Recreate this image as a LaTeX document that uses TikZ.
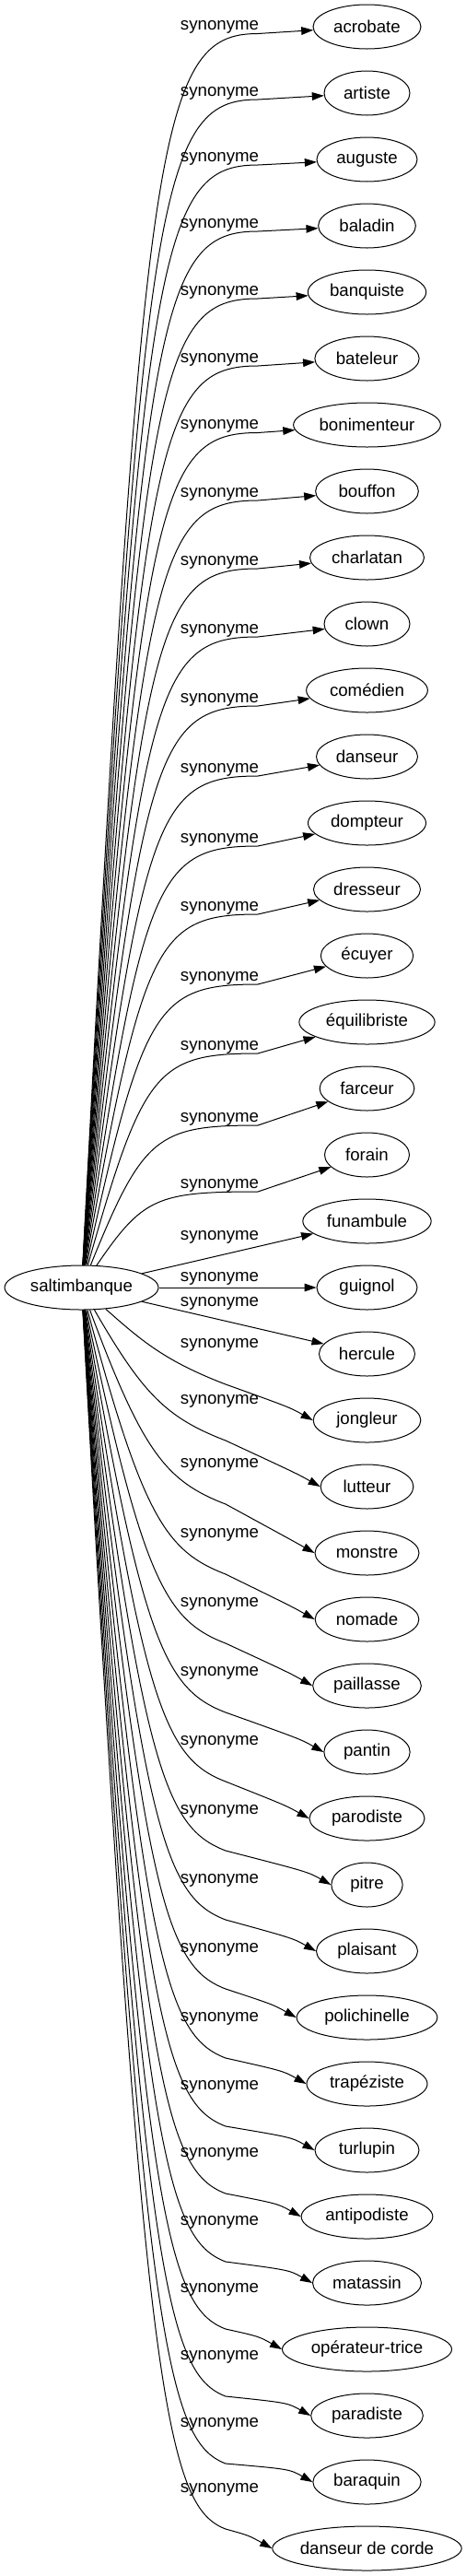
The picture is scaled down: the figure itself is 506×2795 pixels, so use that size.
\documentclass[tikz,border=0pt]{standalone}
\usepackage{fontspec}
\setmainfont{Liberation Sans}
\usetikzlibrary{arrows.meta,shapes.geometric,calc}
\begin{document}
\begin{tikzpicture}[x=0.75pt,y=-0.75pt,
  every node/.style={font=\fontsize{14}{16}\selectfont},
  term/.style={draw, ellipse, inner sep=0pt, minimum height=36pt, line width=0.75pt},
  lab/.style={inner sep=0pt},
  synarrow/.style={draw, line width=0.75pt, -{Triangle[length=9.75pt,width=6.5pt]}}]
\useasboundingbox[fill=white] (0,0) rectangle (506,2795);
\node[term, minimum width=125.25pt] (src) at (88.5,1397) {saltimbanque};
\foreach \i/\t/\w in {1/acrobate/117, 2/artiste/93, 3/auguste/109, 4/baladin/105.7,
  5/banquiste/128.3, 6/bateleur/113.3, 7/bonimenteur/159.7, 8/bouffon/111.7,
  9/charlatan/124, 10/clown/93, 11/comédien/131.7, 12/danseur/110, 13/dompteur/128,
  14/dresseur/116, 15/écuyer/100.3, 16/équilibriste/147.3, 17/farceur/102.7,
  18/forain/92, 19/funambule/139.3, 20/guignol/109, 21/hercule/104, 22/jongleur/116.7,
  23/lutteur/100.7, 24/monstre/113, 25/nomade/112.7, 26/paillasse/117.7, 27/pantin/93.3,
  28/parodiste/125, 29/pitre/77.3, 30/plaisant/110, 31/polichinelle/152.7,
  32/trapéziste/131, 33/turlupin/113, 34/antipodiste/142.7, 35/matassin/118,
  36/opérateur-trice/184, 37/paradiste/121.7, 38/baraquin/117.3, 39/danseur de corde/203.3}{
  \node[term, minimum width=\w*0.75pt] (t\i) at (398.5,{29+72*(\i-1)}) {\t};
}
\foreach \i/\L in {1/29.5, 2/101, 3/172, 4/244, 5/317, 6/390, 7/462.5, 8/536, 9/610,
  10/684, 11/759, 12/835, 13/911, 14/985, 15/1061, 16/1136, 17/1214, 18/1286, 19/1342,
  20/1387, 21/1414, 22/1459, 23/1520, 24/1589, 25/1665, 26/1740, 27/1815, 28/1890,
  29/1965, 30/2040, 31/2115, 32/2190, 33/2264, 34/2337, 35/2411, 36/2484, 37/2557,
  38/2630, 39/2701}{
  \node[lab] (l\i) at (238.5,\L) {synonyme};
}
\foreach \i/\L in {1/29.5, 2/101, 3/172, 4/244, 5/317, 6/390, 7/462.5, 8/536, 9/610,
  10/684, 11/759, 12/835, 13/911, 14/985, 15/1061, 16/1136, 17/1214, 18/1286}{
  \pgfmathsetmacro\Qy{\L+7}
  \pgfmathsetmacro\Cy{\Qy+0.08*(1375-\Qy)}
  \draw[synarrow] (src) .. controls (155,\Cy) and (170,\Qy) .. (280,\Qy) -- (t\i);
}
\draw[synarrow] (src) -- (t19);
\draw[synarrow] (src) -- (t20);
\draw[synarrow] (src) -- (t21);
\foreach \i/\L in {22/1459, 23/1520, 24/1589, 25/1665, 26/1740, 27/1815, 28/1890,
  29/1965, 30/2040, 31/2115, 32/2190, 33/2264, 34/2337, 35/2411, 36/2484, 37/2557,
  38/2630, 39/2701}{
  \pgfmathsetmacro\Cy{\L-0.08*(\L-1421)}
  \pgfmathsetmacro\Ky{\L+18}
  \pgfmathsetmacro\Qy{\L+43}
  \draw[synarrow] (src) .. controls (155,\Cy) and (180,\Ky) .. (245,\Qy)
    .. controls ($(t\i.west)+(-25,-14)$) .. (t\i.west);
}
\end{tikzpicture}
\end{document}
